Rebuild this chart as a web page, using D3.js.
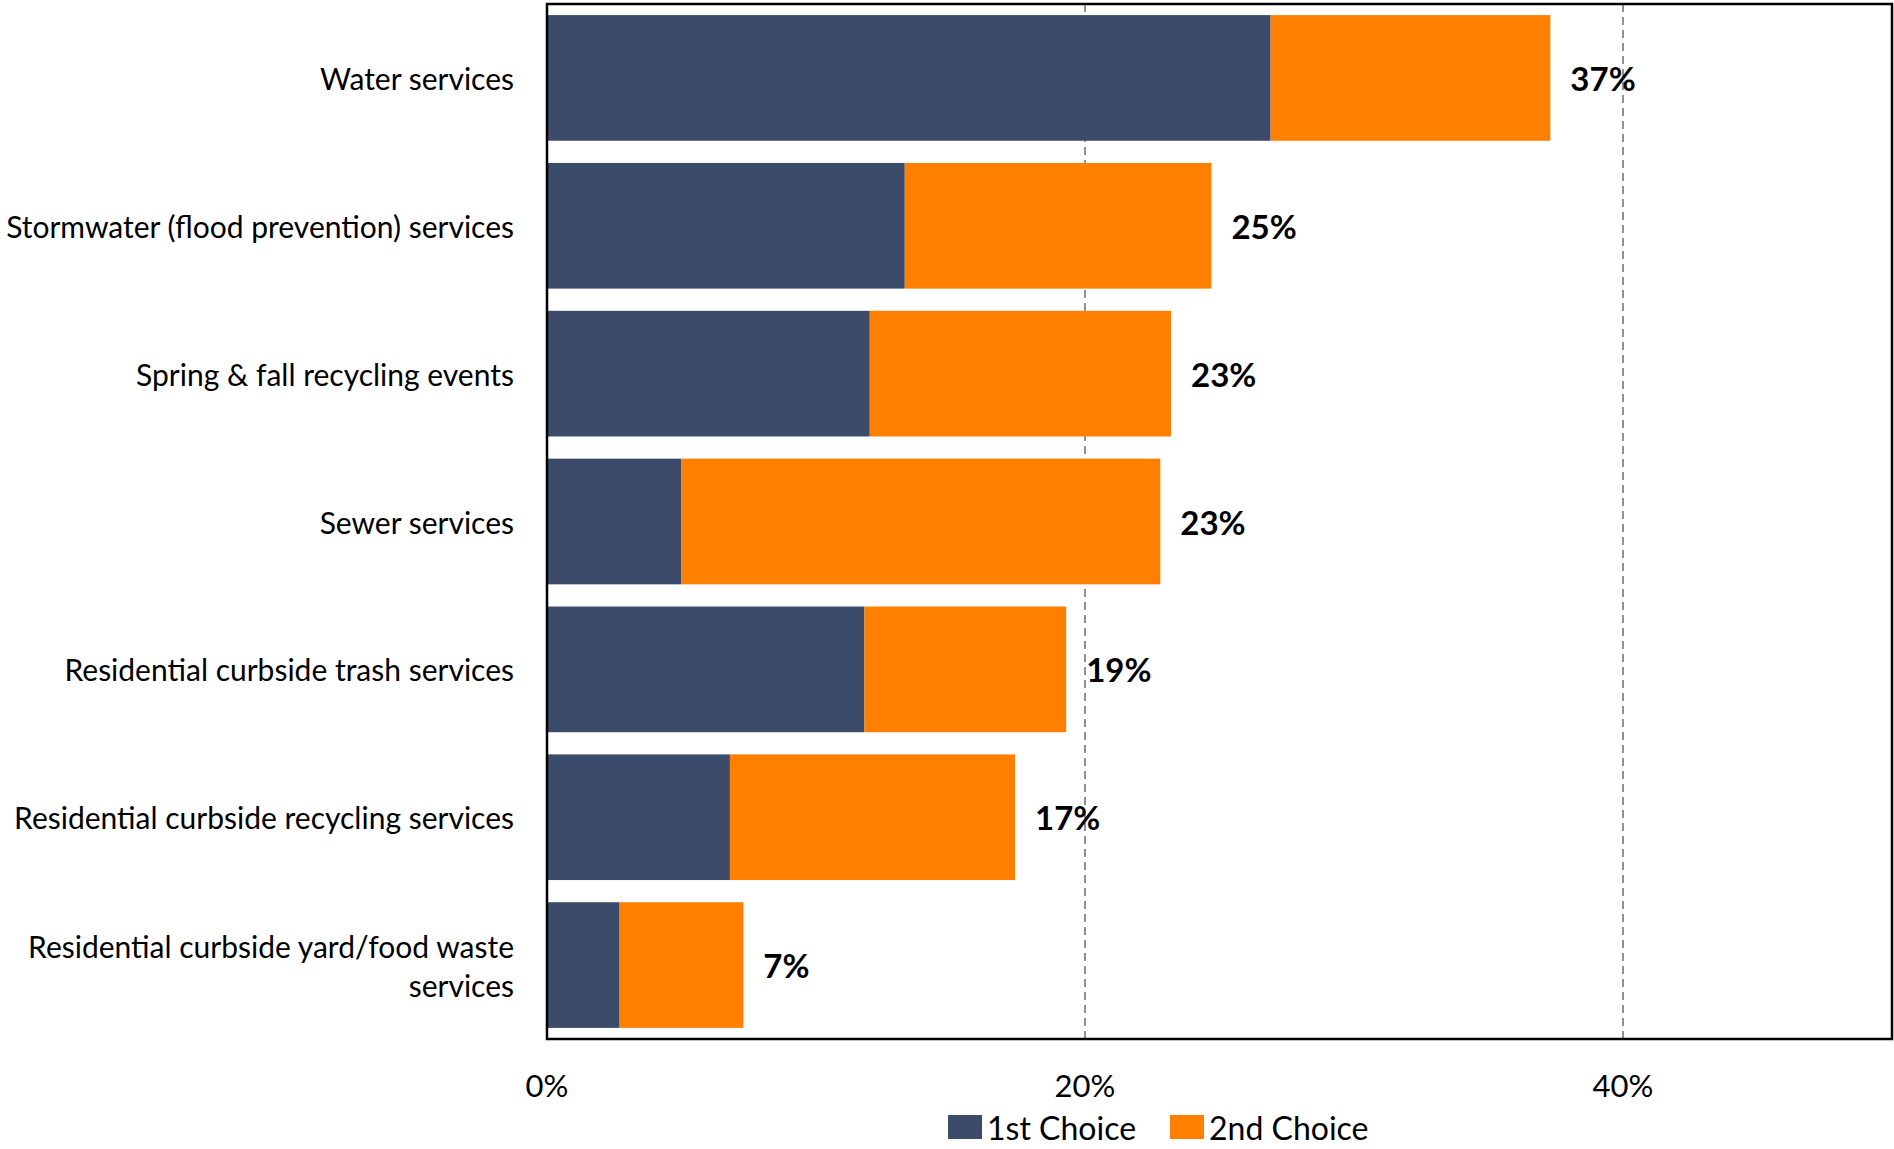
<!DOCTYPE html>
<html>
<head>
<meta charset="utf-8">
<script src="https://cdn.jsdelivr.net/npm/d3@7"></script>
<style>
  html, body { margin: 0; padding: 0; background: #fff; }
  svg { display: block; font-family: Lato, "Open Sans", sans-serif; }
</style>
</head>
<body>
<svg id="chart" width="1894" height="1149"></svg>
<script>
// Service categories, top to bottom
const categories = [
  ["Water services"],
  ["Stormwater (flood prevention) services"],
  ["Spring & fall recycling events"],
  ["Sewer services"],
  ["Residential curbside trash services"],
  ["Residential curbside recycling services"],
  ["Residential curbside yard/food waste", "services"]
];
// Share of respondents (%) choosing each service
const firstChoice  = [26.9, 13.3, 12.0, 5.0, 11.8, 6.8, 2.7];
const secondChoice = [10.4, 11.4, 11.2, 17.8, 7.5, 10.6, 4.6];
const seriesNames = ["1st Choice", "2nd Choice"];
const xTicks = [0, 20, 40];

const colors = ["#3D4B6B", "#FF8000"];

const svg = d3.select("#chart");
const margin = { left: 547, right: 2, top: 4, bottom: 110 };
const W = 1894, H = 1149;
const plotW = W - margin.left - margin.right;
const plotH = H - margin.top - margin.bottom;

const x = d3.scaleLinear().domain([0, 50]).range([0, plotW]);
const y = d3.scaleBand().domain(d3.range(categories.length)).range([0, plotH])
  .paddingInner(0.15).paddingOuter(0.075);

const g = svg.append("g").attr("transform", `translate(${margin.left},${margin.top})`);

// dashed vertical gridlines
g.append("g").selectAll("line").data(xTicks.filter(t => t > 0)).join("line")
  .attr("x1", d => x(d)).attr("x2", d => x(d))
  .attr("y1", 0).attr("y2", plotH)
  .attr("stroke", "#222").attr("stroke-width", 1)
  .attr("stroke-dasharray", "8,5");

// stacked bars
const rows = categories.map((c, i) => ({ i, a: firstChoice[i], b: secondChoice[i] }));
const bars = g.append("g");
bars.selectAll("rect.first").data(rows).join("rect").attr("class", "first")
  .attr("x", x(0)).attr("y", d => y(d.i))
  .attr("width", d => x(d.a) - x(0)).attr("height", y.bandwidth())
  .attr("fill", colors[0]);
bars.selectAll("rect.second").data(rows).join("rect").attr("class", "second")
  .attr("x", d => x(d.a)).attr("y", d => y(d.i))
  .attr("width", d => x(d.a + d.b) - x(d.a)).attr("height", y.bandwidth())
  .attr("fill", colors[1]);

// total labels
g.append("g").selectAll("text").data(rows).join("text")
  .attr("x", d => x(d.a + d.b) + 20)
  .attr("y", d => y(d.i) + y.bandwidth() / 2)
  .attr("dominant-baseline", "central")
  .attr("font-size", 33).attr("font-weight", "bold").attr("fill", "#000")
  .text(d => Math.round(d.a + d.b) + "%");

// plot frame
g.append("rect").attr("x", 0).attr("y", 0).attr("width", plotW).attr("height", plotH)
  .attr("fill", "none").attr("stroke", "#000").attr("stroke-width", 2.5);

// category labels
const lineH = 39;
const labels = g.append("g").selectAll("text").data(categories).join("text")
  .attr("text-anchor", "end")
  .attr("font-size", 30).attr("fill", "#000")
  .attr("transform", (d, i) => `translate(-33,${y(i) + y.bandwidth() / 2})`);
labels.each(function(lines) {
  const t = d3.select(this);
  const n = lines.length;
  lines.forEach((ln, k) => {
    t.append("tspan").attr("x", 0)
      .attr("y", (k - (n - 1) / 2) * lineH)
      .attr("dominant-baseline", "central")
      .text(ln);
  });
});

// x axis tick labels
g.append("g").selectAll("text").data(xTicks).join("text")
  .attr("x", d => x(d)).attr("y", 1085 - margin.top)
  .attr("text-anchor", "middle").attr("dominant-baseline", "central")
  .attr("font-size", 31).attr("fill", "#000")
  .text(d => d + "%");

// legend
const legend = svg.append("g").attr("transform", "translate(948,1127)");
const legendX = [0, 222];
seriesNames.forEach((name, i) => {
  const lg = legend.append("g").attr("transform", `translate(${legendX[i]},0)`);
  lg.append("rect").attr("x", 0).attr("y", -12).attr("width", 34).attr("height", 24)
    .attr("fill", colors[i]);
  lg.append("text").attr("x", 39).attr("y", 0).attr("dominant-baseline", "central")
    .attr("font-size", 32).attr("fill", "#000").text(name);
});
</script>
</body>
</html>
